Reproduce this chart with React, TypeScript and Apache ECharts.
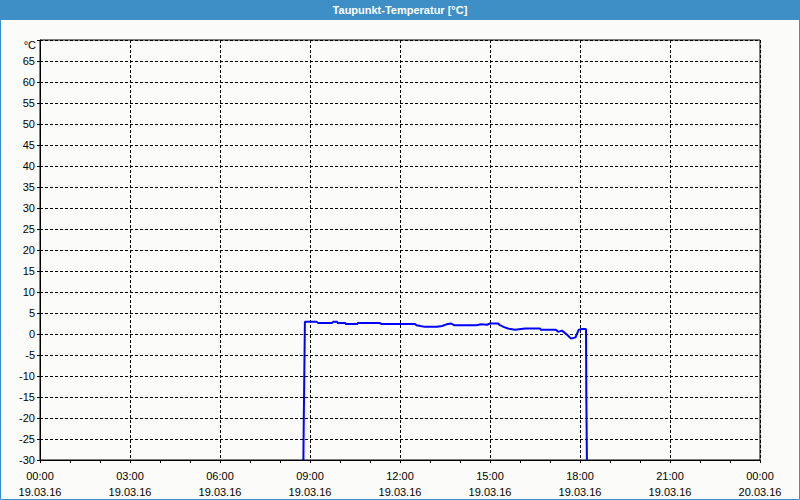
import React, { useEffect, useRef } from "react";
import * as echarts from "echarts";

const title = "Taupunkt-Temperatur [°C]";
const unitLabel = "°C";
const xTickTimes = ["00:00", "03:00", "06:00", "09:00", "12:00", "15:00", "18:00", "21:00", "00:00"];
const xTickDates = ["19.03.16", "19.03.16", "19.03.16", "19.03.16", "19.03.16", "19.03.16", "19.03.16", "19.03.16", "20.03.16"];

// time in hours since 19.03.16 00:00
const hours = [
  8.78, 8.79, 8.83, 9.23, 9.27, 9.73, 9.77, 9.9, 9.93, 10.17, 10.2, 10.57, 10.6, 11.33, 11.37,
  12.5, 12.55, 12.68, 12.83, 13.23, 13.4, 13.55, 13.7, 13.8, 14.55, 14.7, 14.9, 15.0, 15.27,
  15.33, 15.45, 15.6, 15.83, 16.17, 16.67, 16.7, 17.2, 17.27, 17.4, 17.57, 17.7, 17.85, 17.95,
  18.05, 18.2, 18.21, 18.23,
];
const dewPoint = [
  -30, -22, 2.9, 2.9, 2.6, 2.6, 2.9, 2.9, 2.6, 2.6, 2.4, 2.4, 2.6, 2.6, 2.4,
  2.4, 2.1, 1.9, 1.7, 1.7, 1.9, 2.3, 2.5, 2.1, 2.1, 2.3, 2.2, 2.5, 2.5,
  2.1, 1.7, 1.3, 1.0, 1.3, 1.3, 1.0, 1.0, 0.5, 0.8, -0.2, -1.1, -0.8, 0.95,
  1.2, 1.2, -13.8, -30,
];

const FONT = "'Liberation Sans', Arial, sans-serif";

export default function App() {
  const ref = useRef<HTMLDivElement>(null);
  useEffect(() => {
    document.body.style.margin = "0";
    if (!ref.current) return;
    const chart = echarts.init(ref.current, null, { renderer: "svg" });
    chart.setOption({
      animation: false,
      backgroundColor: "#fbfcfa",
      textStyle: { fontFamily: FONT },
      grid: {
        left: 40,
        right: 40,
        top: 40,
        bottom: 40,
        show: true,
        borderColor: "#000",
        borderWidth: 1,
        backgroundColor: "transparent",
      },
      xAxis: {
        type: "value",
        min: 0,
        max: 24,
        interval: 3,
        axisLine: { show: true, onZero: false, lineStyle: { color: "#000", width: 1 } },
        axisTick: { show: true, length: 3, inside: false, lineStyle: { color: "#000" } },
        minorTick: { show: true, splitNumber: 3, length: 3, lineStyle: { color: "#000" } },
        splitLine: { show: true, lineStyle: { color: "#000", type: [3, 2], width: 1 } },
        axisLabel: {
          color: "#000",
          fontSize: 11,
          fontFamily: FONT,
          margin: 8,
          lineHeight: 16,
          showMaxLabel: true,
          showMinLabel: true,
          formatter: (v: number) => {
            const i = Math.round(v / 3);
            return `${xTickTimes[i]}\n${xTickDates[i]}`;
          },
        },
      },
      yAxis: {
        type: "value",
        min: -30,
        max: 70,
        interval: 5,
        axisLine: { show: true, onZero: false, lineStyle: { color: "#000", width: 1 } },
        axisTick: { show: true, length: 3, inside: false, lineStyle: { color: "#000" } },
        splitLine: { show: true, lineStyle: { color: "#000", type: [3, 2], width: 1 } },
        axisLabel: {
          color: "#000",
          fontSize: 11,
          fontFamily: FONT,
          margin: 5,
          formatter: (v: number) => (v >= 70 ? "" : String(v)),
        },
      },
      graphic: [
        {
          type: "rect",
          shape: { x: 0, y: 0, width: 800, height: 20 },
          style: { fill: "#3d8fc6" },
          silent: true,
        },
        {
          type: "rect",
          shape: { x: 0.5, y: 0.5, width: 799, height: 499 },
          style: { fill: "none", stroke: "#3d8fc6", lineWidth: 1 },
          silent: true,
        },
        {
          type: "text",
          x: 400,
          y: 10,
          style: {
            text: title,
            fill: "#fff",
            font: `bold 11px ${FONT}`,
            textAlign: "center",
            textVerticalAlign: "middle",
          },
        },
        {
          type: "text",
          x: 36,
          y: 45,
          style: {
            text: unitLabel,
            fill: "#000",
            font: `11px ${FONT}`,
            textAlign: "right",
            textVerticalAlign: "middle",
          },
        },
      ],
      series: [
        {
          type: "line",
          data: hours.map((h, i) => [h, dewPoint[i]]),
          showSymbol: false,
          symbol: "none",
          lineStyle: { color: "#0000ff", width: 2 },
          clip: true,
        },
      ],
    });
    return () => chart.dispose();
  }, []);
  return <div ref={ref} style={{ width: 800, height: 500 }} />;
}
